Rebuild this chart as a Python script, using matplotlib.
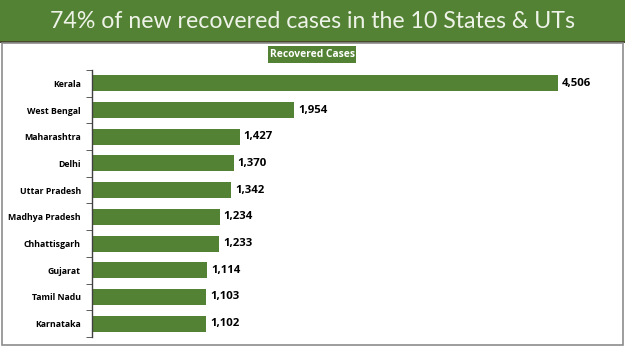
import matplotlib.pyplot as plt
from matplotlib.patches import Rectangle

states = ['Kerala', 'West Bengal', 'Maharashtra', 'Delhi', 'Uttar Pradesh',
          'Madhya Pradesh', 'Chhattisgarh', 'Gujarat', 'Tamil Nadu', 'Karnataka']
recovered = [4506, 1954, 1427, 1370, 1342, 1234, 1233, 1114, 1103, 1102]

green = '#548235'
W, H = 625, 351

fig = plt.figure(figsize=(W / 100, H / 100), dpi=100)
fig.patch.set_facecolor('white')

# title banner
fig.patches.append(Rectangle((0, 1 - 41 / H), 1, 41 / H, transform=fig.transFigure,
                             facecolor=green, edgecolor='none'))
fig.patches.append(Rectangle((0, 1 - 43 / H), 1, 2 / H, transform=fig.transFigure,
                             facecolor='#4a4a2a', edgecolor='none'))
fig.text(0.5, 1 - 21 / H, '74% of new recovered cases in the 10 States & UTs',
         ha='center', va='center', color='#eef3e8', fontsize=16.7, family='Lato')

# panel border
fig.patches.append(Rectangle((2 / W, 1 - 345 / H), 621 / W, 302 / H, transform=fig.transFigure,
                             facecolor='none', edgecolor='#8c8c8c', linewidth=1.2))

# legend box
fig.patches.append(Rectangle((268 / W, 1 - 63 / H), 88 / W, 17 / H, transform=fig.transFigure,
                             facecolor=green, edgecolor='none'))
fig.text(312 / W, 1 - 54.5 / H, 'Recovered Cases', ha='center', va='center',
         color='white', fontsize=7.4, fontweight='bold', family='Open Sans')

left, right = 92, 609
top, bottom = 70, 337
ax = fig.add_axes([left / W, 1 - bottom / H, (right - left) / W, (bottom - top) / H])
y = list(range(len(states)))
ax.barh(y, recovered, height=0.6, color=green)
ax.set_xlim(0, 5000)
ax.set_ylim(len(states) - 0.5, -0.5)
ax.set_yticks(y)
ax.set_yticklabels(states, fontsize=6.3, fontweight='bold', family='Open Sans')
ax.set_yticks([i - 0.5 for i in range(len(states) + 1)], minor=True)
ax.tick_params(axis='y', which='major', length=0, pad=8)
ax.tick_params(axis='y', which='minor', length=4, direction='out', color='#404040')
ax.set_xticks([])
for s in ['top', 'right', 'bottom']:
    ax.spines[s].set_visible(False)
ax.spines['left'].set_color('#404040')
ax.spines['left'].set_linewidth(1)
ax.patch.set_alpha(0)

for i, v in enumerate(recovered):
    ax.text(v + 40, i, f'{v:,}', va='center', ha='left', fontsize=8.2,
            fontweight='bold', family='Open Sans')

fig.savefig('out.png', dpi=100)
